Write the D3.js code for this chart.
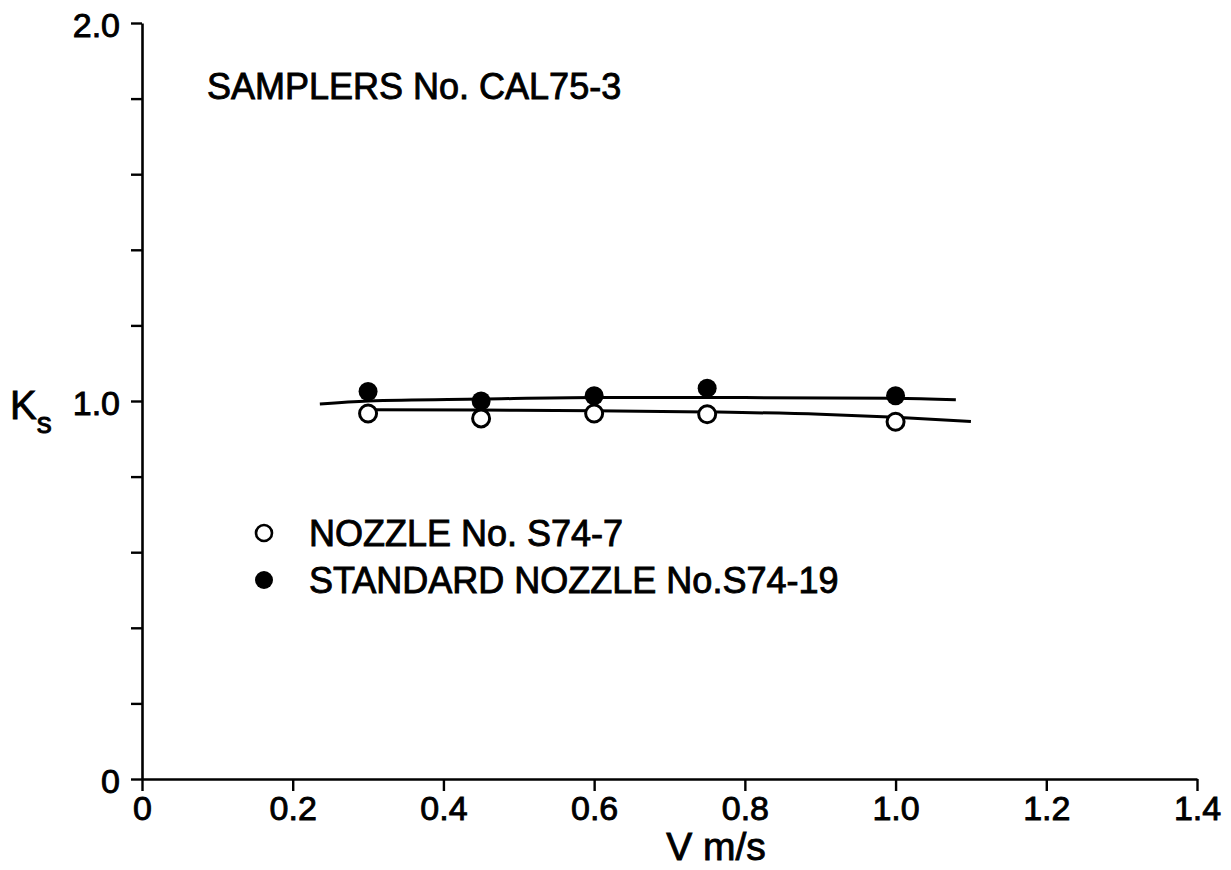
<!DOCTYPE html>
<html>
<head>
<meta charset="utf-8">
<script src="https://cdn.jsdelivr.net/npm/d3@7/dist/d3.min.js"></script>
<style>
  html, body { margin: 0; padding: 0; background: #fff; }
  svg text { font-family: "Liberation Sans", Arial, Helvetica, sans-serif; fill: #000; stroke: #000; stroke-width: 0.9px; }
</style>
</head>
<body>
<svg id="chart" width="1231" height="870"></svg>
<script>
// Sampler calibration: coefficient K_s against flow velocity V (m/s)
const velocities = [0.3, 0.45, 0.6, 0.75, 1.0];
const ksNozzle = [0.967, 0.954, 0.967, 0.965, 0.945];     // NOZZLE No. S74-7 (open)
const ksStandard = [1.025, 1.0, 1.014, 1.034, 1.014];     // STANDARD NOZZLE No.S74-19 (filled)

// hand-drawn fit curves through each series
const fitStandardV = [0.236, 0.3, 0.45, 0.6, 0.8, 1.0, 1.08];
const fitStandardK = [0.992, 1.0, 1.005, 1.009, 1.009, 1.007, 1.003];
const fitNozzleV = [0.3, 0.45, 0.6, 0.75, 0.9, 1.0, 1.1];
const fitNozzleK = [0.977, 0.976, 0.974, 0.971, 0.965, 0.957, 0.946];

const xTicks = [0, 0.2, 0.4, 0.6, 0.8, 1.0, 1.2, 1.4];
const xTickLabels = ["0", "0.2", "0.4", "0.6", "0.8", "1.0", "1.2", "1.4"];
const yTicks = [0, 0.2, 0.4, 0.6, 0.8, 1.0, 1.2, 1.4, 1.6, 1.8, 2.0];
const yTickLabels = { 0: "0", 1: "1.0", 2: "2.0" };

const legendLabels = ["NOZZLE No. S74-7", "STANDARD NOZZLE No.S74-19"];
const titleText = "SAMPLERS No. CAL75-3";

const svg = d3.select("#chart");
const x = d3.scaleLinear().domain([0, 1.4]).range([142, 1197]);
const y = d3.scaleLinear().domain([0, 2.0]).range([779, 23]);

// axes
const xAxis = d3.axisBottom(x).tickValues(xTicks)
  .tickFormat((d, i) => xTickLabels[i]).tickSizeInner(12).tickSizeOuter(0).tickPadding(5);
const gx = svg.append("g").attr("transform", `translate(0,${y(0)})`).call(xAxis);
gx.selectAll("text").attr("font-size", 34).attr("dy", "0.72em");

const yAxis = d3.axisLeft(y).tickValues(yTicks)
  .tickFormat(d => yTickLabels[Math.round(d * 10) / 10] || "")
  .tickSizeInner(11).tickSizeOuter(0).tickPadding(11);
const gy = svg.append("g").attr("transform", `translate(${x(0)},0)`).call(yAxis);
gy.selectAll("text").attr("font-size", 34).attr("dy", "0.4em");

svg.selectAll(".domain").attr("stroke", "#000").attr("stroke-width", 2.6);
svg.selectAll(".tick line").attr("stroke", "#000").attr("stroke-width", 2.4);

// axis titles
svg.append("text").attr("x", 716).attr("y", 860).attr("text-anchor", "middle")
  .attr("font-size", 39).text("V m/s");
const ks = svg.append("text").attr("x", 10).attr("y", 419).attr("font-size", 40);
ks.append("tspan").text("K");
ks.append("tspan").attr("font-size", 30).attr("dy", 14).text("s");

// chart caption
svg.append("text").attr("x", 207).attr("y", 99).attr("font-size", 36).text(titleText);

// fit curves
const line = d3.line().x(d => x(d[0])).y(d => y(d[1])).curve(d3.curveMonotoneX);
svg.append("path").datum(d3.zip(fitStandardV, fitStandardK)).attr("d", line)
  .attr("fill", "none").attr("stroke", "#000").attr("stroke-width", 3);
svg.append("path").datum(d3.zip(fitNozzleV, fitNozzleK)).attr("d", line)
  .attr("fill", "none").attr("stroke", "#000").attr("stroke-width", 3);

// data points
svg.append("g").selectAll("circle").data(d3.zip(velocities, ksStandard)).join("circle")
  .attr("cx", d => x(d[0])).attr("cy", d => y(d[1])).attr("r", 9.5).attr("fill", "#000");
svg.append("g").selectAll("circle").data(d3.zip(velocities, ksNozzle)).join("circle")
  .attr("cx", d => x(d[0])).attr("cy", d => y(d[1])).attr("r", 8.5)
  .attr("fill", "#fff").attr("stroke", "#000").attr("stroke-width", 3);

// legend
const legend = svg.append("g");
legend.append("circle").attr("cx", 264).attr("cy", 533).attr("r", 8)
  .attr("fill", "#fff").attr("stroke", "#000").attr("stroke-width", 2.6);
legend.append("circle").attr("cx", 264).attr("cy", 580).attr("r", 9).attr("fill", "#000");
legend.selectAll("text").data(legendLabels).join("text")
  .attr("x", 309).attr("y", (d, i) => 546 + i * 47).attr("font-size", 36).text(d => d);
</script>
</body>
</html>
